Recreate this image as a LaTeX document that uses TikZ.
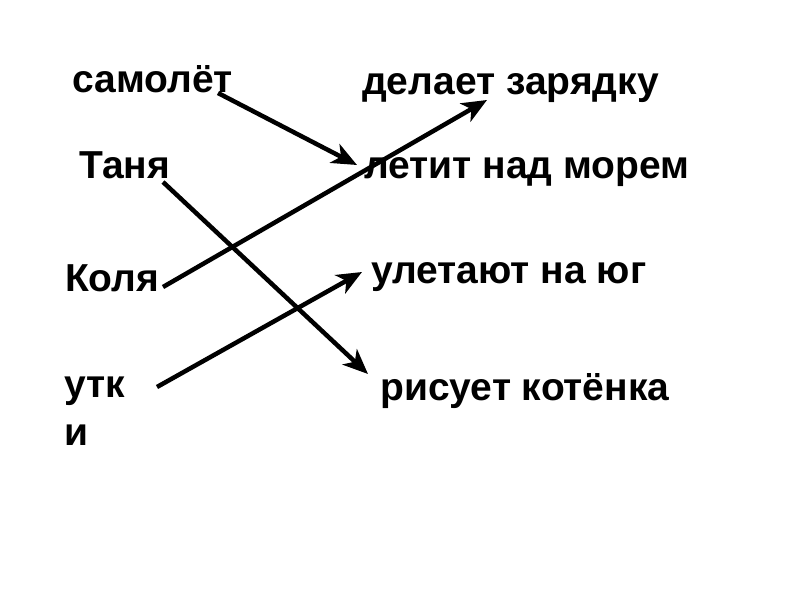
\documentclass[tikz,border=0pt]{standalone}
\usepackage{fontspec}
\setmainfont{Liberation Sans}
\usetikzlibrary{arrows.meta}
\tikzset{
  word/.style={anchor=base west, inner sep=0pt, font=\fontsize{39}{48}\selectfont\bfseries, align=left},
  link/.style={line width=4.5pt, -{Stealth[length=25pt,width=21pt,inset=7pt]}}
}
\begin{document}
\begin{tikzpicture}[x=1pt,y=-1pt]
\useasboundingbox[fill=white] (0,0) rectangle (800,600);
\node[word] (samolet) at (72,92) {самолёт};
\node[word] (tanya) at (79,178) {Таня};
\node[word] (kolya) at (65,291) {Коля};
\node[word] (utki) at (64,445) {утк\\и};
\node[word] (zaryadka) at (362,94) {делает зарядку};
\node[word] (letit) at (364,178) {летит над морем};
\node[word] (uletayut) at (371,283) {улетают на юг};
\node[word] (risuet) at (380,400) {рисует котёнка};
\coordinate (a1) at (218,93);
\coordinate (b1) at (357,165);
\coordinate (a2) at (163,182);
\coordinate (b2) at (368,374);
\coordinate (a3) at (163,287);
\coordinate (b3) at (487,100);
\coordinate (a4) at (157,387);
\coordinate (b4) at (362,272);
\draw[link] (a1) -- (b1);
\draw[link] (a2) -- (b2);
\draw[link] (a3) -- (b3);
\draw[link] (a4) -- (b4);
\end{tikzpicture}
\end{document}
